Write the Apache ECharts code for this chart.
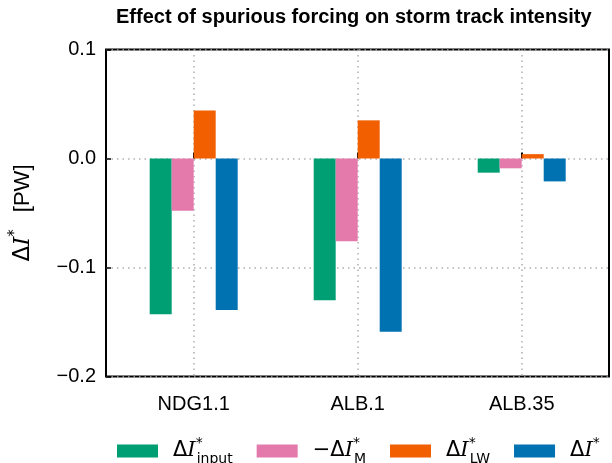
<!DOCTYPE html>
<html>
<head>
<meta charset="utf-8">
<script src="https://cdn.jsdelivr.net/npm/echarts@6/dist/echarts.min.js"></script>
<style>
  html, body { margin: 0; padding: 0; background: #fff; }
  #chart { width: 612px; height: 463px; }
</style>
</head>
<body>
<div id="chart"></div>
<script>
// Experiments on the x axis
const categories = ['NDG1.1', 'ALB.1', 'ALB.35'];

// Storm-track intensity changes [PW] for each experiment
const inputValues = [-0.143, -0.130, -0.013];   // ΔI*_input
const mValues     = [-0.048, -0.076, -0.009];   // −ΔI*_M
const lwValues    = [0.044, 0.035, 0.004];      // ΔI*_LW
const totalValues = [-0.139, -0.159, -0.021];   // ΔI*

// Y axis ticks
const yMin = -0.2, yMax = 0.1, yStep = 0.1;

const seriesNames = ['input', 'M', 'LW', 'total'];
const seriesColors = ['#009e73', '#e47aab', '#f25f00', '#0072b2'];
const seriesData = [inputValues, mValues, lwValues, totalValues];

const legendText = {
  input: '{g|}{d|Δ}{i|I}{sup|*}{sub|input}',
  M: '{g|}{d|−Δ}{i|I}{sup|*}{sub|M}',
  LW: '{g|}{d|Δ}{i|I}{sup|*}{sub|LW}',
  total: '{g|}{d|Δ}{i|I}{sup2|*}'
};

const sans = 'Liberation Sans, Arial, sans-serif';
const gridLine = { color: '#b0b0b0', width: 1.5, type: [1.5, 4] };

const chart = echarts.init(document.getElementById('chart'), null, { renderer: 'canvas' });

chart.setOption({
  animation: false,
  backgroundColor: '#fff',
  title: {
    text: 'Effect of spurious forcing on storm track intensity',
    left: 116,
    top: 7,
    padding: 0,
    textStyle: { fontFamily: sans, fontSize: 20, fontWeight: 'bold', color: '#000' }
  },
  grid: [
    { // frame
      left: 105.5, top: 49.5, width: 503.5, height: 327,
      show: true, borderColor: '#000', borderWidth: 2, backgroundColor: 'transparent'
    },
    { // bars
      left: 111.7, top: 49.5, width: 492, height: 327
    }
  ],
  xAxis: [
    { gridIndex: 0, type: 'value', min: 0, max: 1, show: false },
    {
      gridIndex: 1, type: 'category', data: categories,
      axisLine: { show: false },
      axisTick: { show: true, inside: true, alignWithLabel: true, length: 6,
                  lineStyle: { color: '#000', width: 2 } },
      axisLabel: { fontFamily: sans, fontSize: 20, color: '#000', margin: 18 },
      splitLine: { show: true, alignWithLabel: true, lineStyle: gridLine }
    }
  ],
  yAxis: [
    {
      gridIndex: 0, type: 'value', min: yMin, max: yMax, interval: yStep,
      axisLine: { show: false },
      axisTick: { show: true, inside: true, length: 5, lineStyle: { color: '#000', width: 1.5 } },
      axisLabel: {
        fontFamily: sans, fontSize: 20, color: '#000', margin: 10,
        formatter: v => (Math.abs(v) < 1e-9 ? 0 : v).toFixed(1).replace('-', '−')
      },
      splitLine: { show: true, lineStyle: gridLine },
      name: '{d|Δ}{i|I}{sup|*}{g|}{t|[PW]}',
      nameLocation: 'middle',
      nameGap: 68,
      nameRotate: 90,
      nameTextStyle: {
        fontFamily: sans,
        fontSize: 22,
        color: '#000',
        rich: {
          d: { fontFamily: 'DejaVu Sans', fontSize: 23, color: '#000', lineHeight: 30 },
          i: { fontFamily: 'DejaVu Serif', fontStyle: 'italic', fontSize: 23, color: '#000', lineHeight: 30 },
          sup: { fontFamily: 'DejaVu Sans', fontSize: 15, color: '#000', verticalAlign: 'top', lineHeight: 30 },
          g: { width: 17, lineHeight: 30 },
          t: { fontFamily: sans, fontSize: 22, color: '#000', lineHeight: 30 }
        }
      }
    },
    { gridIndex: 1, type: 'value', min: yMin, max: yMax, interval: yStep, show: false }
  ],
  legend: {
    left: 117,
    top: 436,
    padding: 0,
    icon: 'rect',
    itemWidth: 41,
    itemHeight: 13,
    itemGap: 24,
    data: seriesNames,
    formatter: name => legendText[name],
    textStyle: {
      color: '#000',
      rich: {
        g: { width: 10 },
        d: { fontFamily: 'DejaVu Sans', fontSize: 21, color: '#000', lineHeight: 30 },
        i: { fontFamily: 'DejaVu Serif', fontStyle: 'italic', fontSize: 21, color: '#000', lineHeight: 30 },
        sup: { fontFamily: 'DejaVu Sans', fontSize: 14, color: '#000', verticalAlign: 'top', width: 1, lineHeight: 30 },
        sup2: { fontFamily: 'DejaVu Sans', fontSize: 14, color: '#000', verticalAlign: 'top', lineHeight: 30 },
        sub: { fontFamily: 'DejaVu Sans', fontSize: 14, color: '#000', verticalAlign: 'bottom', lineHeight: 30 }
      }
    }
  },
  series: seriesNames.map((name, k) => ({
    name: name,
    type: 'bar',
    xAxisIndex: 1,
    yAxisIndex: 1,
    data: seriesData[k],
    barWidth: 22,
    barGap: '0%',
    itemStyle: { color: seriesColors[k] }
  }))
});
</script>
</body>
</html>
